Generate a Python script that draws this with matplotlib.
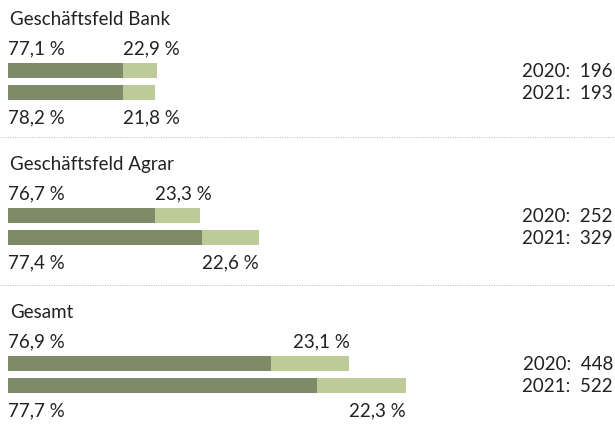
import matplotlib
matplotlib.use("Agg")
import matplotlib.pyplot as plt

# Data
groups = ["Geschäftsfeld Bank", "Geschäftsfeld Agrar", "Gesamt"]
years = ["2020", "2021"]
totals = [[196, 193], [252, 329], [448, 522]]
share_a = [[77.1, 78.2], [76.7, 77.4], [76.9, 77.7]]
share_b = [[22.9, 21.8], [23.3, 22.6], [23.1, 22.3]]

DARK = "#7e8b69"
LIGHT = "#bdcb99"
TEXT = "#222222"
FONT = "Lato"
FS = 13.5

W, H = 615, 424
fig = plt.figure(figsize=(W / 100, H / 100), dpi=100)
ax = fig.add_axes([0, 0, 1, 1])
px = 0.762   # pixels per unit of value
x0 = 8       # left margin in pixels
ax.set_xlim(-x0 / px, (W - x0) / px)
ax.set_ylim(H, 0)
ax.axis("off")

tops = [63, 208, 356]     # top edge of the first bar in each group
bar_h = 15
gap = 22

def pct(v):
    return f"{v:.1f}".replace(".", ",") + " %"

renderer = fig.canvas.get_renderer()

for g, name in enumerate(groups):
    top = tops[g]
    ax.text(2 / px, top - 38, name, fontsize=FS, family=FONT, color=TEXT,
            ha="left", va="baseline")
    for k in range(2):
        yc = top + k * gap + bar_h / 2
        total = totals[g][k]
        a = total * share_a[g][k] / 100
        ax.barh(yc, a, height=bar_h, left=0, color=DARK, linewidth=0)
        ax.barh(yc, total - a, height=bar_h, left=a, color=LIGHT, linewidth=0)

        base = top - 9 if k == 0 else top + gap + bar_h + 23
        ax.text(0, base, pct(share_a[g][k]), fontsize=FS, family=FONT,
                color=TEXT, ha="left", va="baseline")
        t = ax.text(total, base, pct(share_b[g][k]), fontsize=FS, family=FONT,
                    color=TEXT, ha="right", va="baseline")
        bb = t.get_window_extent(renderer=renderer)
        split_px = ax.transData.transform((a, 0))[0]
        if bb.x0 < split_px + 2:
            t.set_x(a)
            t.set_ha("left")

        ax.text((W - x0 - 2) / px, yc + 1, f"{years[k]}:  {total}",
                fontsize=FS, family=FONT, color=TEXT, ha="right",
                va="center")

    if g > 0:
        ax.axhline(top - 71, color="#b5b5b5", lw=0.7, linestyle=(0, (1, 1.5)))

fig.savefig("out.png", dpi=100)
